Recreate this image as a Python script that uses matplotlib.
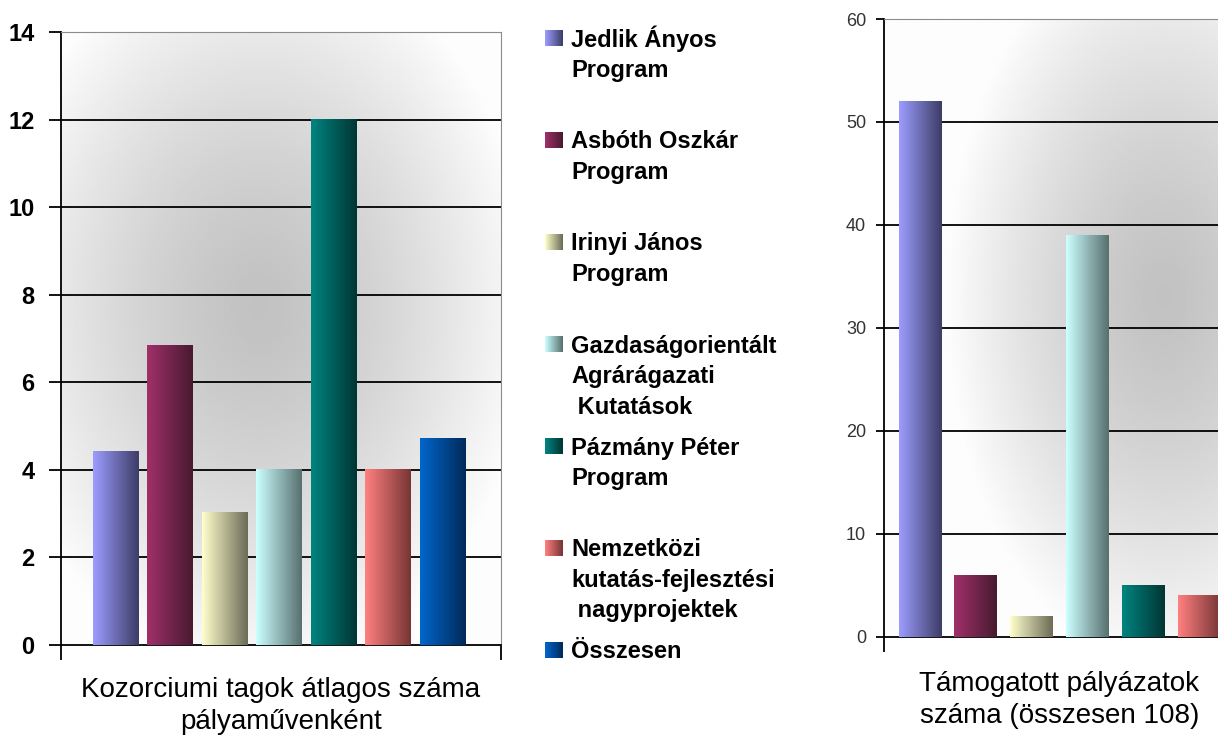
import numpy as np
import matplotlib
matplotlib.use("Agg")
import matplotlib.pyplot as plt
from matplotlib.colors import LinearSegmentedColormap

plt.rcParams['font.family'] = ['Liberation Sans', 'DejaVu Sans']

# data
categories = ["Jedlik Ányos\nProgram",
              "Asbóth Oszkár\nProgram",
              "Irinyi János\nProgram",
              "Gazdaságorientált\nAgrárágazati\n Kutatások",
              "Pázmány Péter\nProgram",
              "Nemzetközi\nkutatás-fejlesztési\n nagyprojektek",
              "Összesen"]
avg_members = [4.42, 6.85, 3.02, 4.0, 12.0, 4.0, 4.72]
supported = [52, 6, 2, 39, 5, 4]   # the 108 total is off the visible area
left_title = "Kozorciumi tagok átlagos száma\npályaművenként"
right_title = "Támogatott pályázatok\nszáma (összesen 108)"

# light -> dark gradient of each bar
light = ['#9c9cff', '#a0306a', '#ffffcc', '#ccffff', '#008480', '#ff8080', '#0066cc']
dark = ['#3d3d68', '#481a30', '#6c6c58', '#587070', '#003634', '#773535', '#002a5a']

W, H = 1218, 738
fig = plt.figure(figsize=(W / 100, H / 100), dpi=100)
fig.patch.set_facecolor('white')


def background(ax, cx, cy):
    # radial grey shading of the plot area, in data coords
    x0, x1 = ax.get_xlim()
    y0, y1 = ax.get_ylim()
    yy, xx = np.mgrid[0:1:200j, 0:1:200j]
    r = np.sqrt(((xx - cx) / 0.62) ** 2 + ((yy - cy) / 0.6) ** 2)
    v = 0.76 + 0.23 * np.clip(r, 0, 1) ** 1.4
    ax.imshow(v, extent=[x0, x1, y0, y1], cmap='gray', vmin=0, vmax=1,
              origin='lower', aspect='auto', zorder=0, interpolation='bilinear')
    ax.set_xlim(x0, x1)
    ax.set_ylim(y0, y1)


def gradient_bars(ax, values, width):
    x = np.arange(len(values))
    bars = ax.bar(x, values, width=width, color='none', zorder=3)
    grad = np.linspace(0, 1, 64).reshape(1, -1)
    for i, b in enumerate(bars):
        cmap = LinearSegmentedColormap.from_list('c%d' % i, [light[i], dark[i]])
        x0, w, h = b.get_x(), b.get_width(), b.get_height()
        ax.imshow(grad, extent=[x0, x0 + w, 0, h], cmap=cmap, aspect='auto',
                  zorder=3, interpolation='bilinear')


def style(ax, ymax, step, xlim, tick_kw, tick_len, pad):
    ax.set_xlim(*xlim)
    ax.set_ylim(0, ymax)
    ax.set_yticks(np.arange(0, ymax + 1, step))
    ax.set_xticks(list(xlim))
    ax.set_xticklabels(['', ''])
    for y in np.arange(step, ymax, step):
        ax.axhline(y, color='black', lw=1.3, zorder=2)
    ax.spines['left'].set_color('black')
    ax.spines['left'].set_linewidth(1.3)
    ax.spines['bottom'].set_color('black')
    ax.spines['bottom'].set_linewidth(1.3)
    ax.spines['top'].set_color('#8c8c8c')
    ax.spines['right'].set_color('#8c8c8c')
    ax.tick_params(axis='y', direction='out', length=tick_len, width=1.3, pad=pad)
    ax.tick_params(axis='x', direction='out', length=11, width=1.3)
    for lab in ax.get_yticklabels():
        lab.update(tick_kw)


# left chart
ax1 = fig.add_axes([61 / W, 1 - 645 / H, 440 / W, 613 / H])
gradient_bars(ax1, avg_members, 0.84)
style(ax1, 14, 2, (-1.0, 7.07), dict(fontsize=17, fontweight='bold'), 9, 10)
background(ax1, 0.45, 0.55)
ax1.text(0.5, -0.052, left_title, transform=ax1.transAxes, ha='center', va='top',
         fontsize=20, linespacing=1.3)

# right chart (cut off by the picture edge)
ax2 = fig.add_axes([884.3 / W, 1 - 636.7 / H, 350.4 / W, 617.7 / H])
gradient_bars(ax2, supported, 0.77)
style(ax2, 60, 10, (-0.64, 5.64), dict(fontsize=13, color='#333333'), 6, 7)
background(ax2, 0.8, 0.55)
ax2.text(0.5, -0.055, right_title, transform=ax2.transAxes, ha='center', va='top',
         fontsize=20, linespacing=1.3)

# legend drawn by hand
grad = np.linspace(0, 1, 32).reshape(1, -1)
for i, label in enumerate(categories):
    yc = 38 + 102 * i
    mk = fig.add_axes([545 / W, 1 - (yc + 8) / H, 18 / W, 16 / H])
    mk.imshow(grad, cmap=LinearSegmentedColormap.from_list('m%d' % i, [light[i], dark[i]]),
              aspect='auto', interpolation='bilinear')
    mk.axis('off')
    for j, line in enumerate(label.split('\n')):
        yb = yc + 30.5 * j + 8.5
        fig.text(571 / W, 1 - yb / H, line, fontsize=17, fontweight='bold',
                 va='baseline', ha='left')

fig.savefig('out.png', dpi=100)
